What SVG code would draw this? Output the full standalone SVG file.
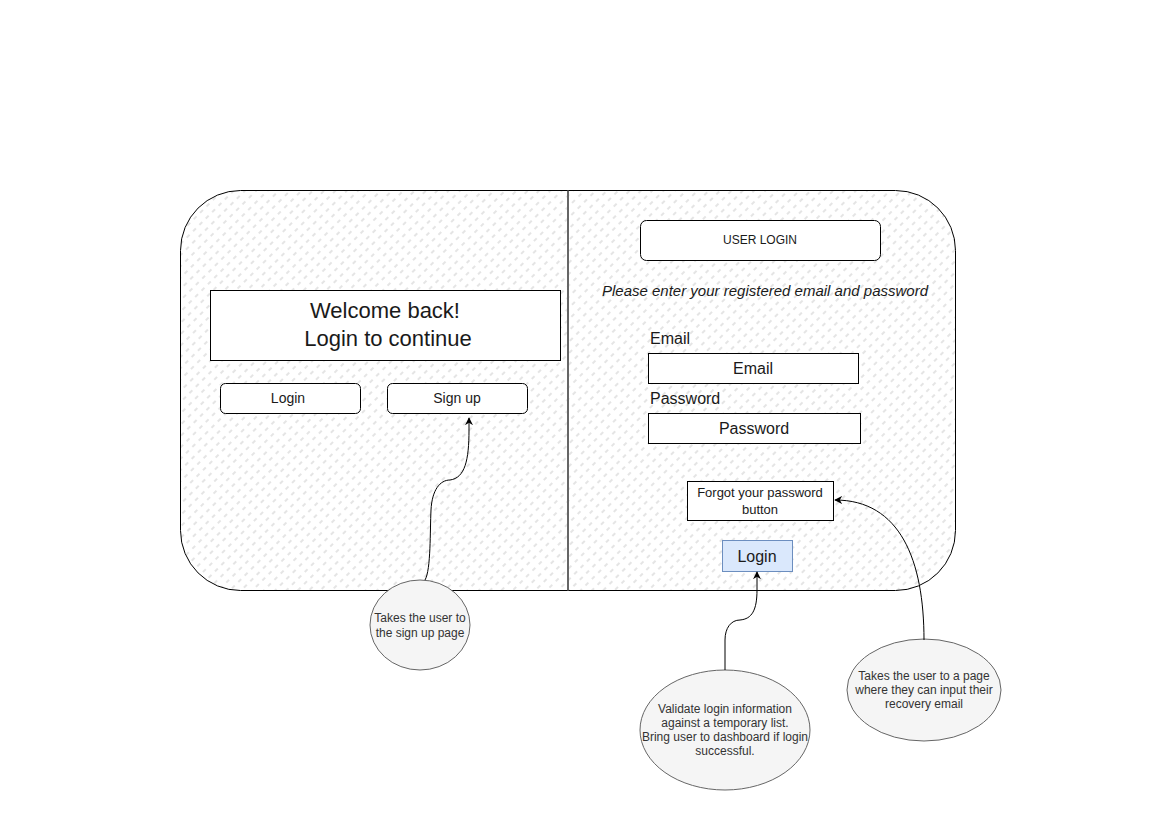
<svg xmlns="http://www.w3.org/2000/svg" width="1169" height="827" viewBox="0 0 1169 827">
<style>
.t{font-family:"Liberation Sans",Arial,sans-serif;fill:#1a1a1a;text-anchor:middle}
.box{fill:#fff;stroke:#000;stroke-width:1}
.ell{fill:#f5f5f5;stroke:#666;stroke-width:1}
.et{font-family:"Liberation Sans",Arial,sans-serif;fill:#333;font-size:12px;text-anchor:middle}
.edge{fill:none;stroke:#000;stroke-width:1}
</style>
<defs>
<pattern id="hatch" width="9" height="8" patternUnits="userSpaceOnUse" patternTransform="rotate(-45)">
<line x1="0" y1="4" x2="4" y2="4" stroke="#c4c4c4" stroke-width="0.9"/>
</pattern>
<marker id="arr" viewBox="0 0 10 10" refX="9" refY="5" markerWidth="8" markerHeight="8" orient="auto" markerUnits="userSpaceOnUse">
<path d="M0,0 L10,5 L0,10 L3,5 Z" fill="#000"/>
</marker>
</defs>
<rect width="1169" height="827" fill="#fff"/>
<g id="frame">
<rect x="180.5" y="190.5" width="775" height="400" rx="60" ry="60" fill="#fff" stroke="none"/>
<rect x="180.5" y="190.5" width="775" height="400" rx="60" ry="60" fill="url(#hatch)" stroke="#000"/>
<line x1="568" y1="190.5" x2="568" y2="590.5" stroke="#666" stroke-width="2"/>
</g>
<g id="welcome">
<rect class="box" x="210.5" y="290.5" width="350" height="70"/>
<text class="t" x="385" y="318" font-size="22">Welcome back!</text>
<text class="t" x="388" y="346" font-size="22">Login to continue</text>
</g>
<g id="btn-login-left">
<rect class="box" x="220.5" y="383.5" width="140" height="30" rx="5"/>
<text class="t" x="288" y="403" font-size="14">Login</text>
</g>
<g id="btn-signup">
<rect class="box" x="387.5" y="383.5" width="140" height="30" rx="5"/>
<text class="t" x="457" y="403" font-size="14">Sign up</text>
</g>
<g id="user-login">
<rect class="box" x="640.5" y="220.5" width="240" height="40" rx="6"/>
<text class="t" x="760" y="244" font-size="12">USER LOGIN</text>
</g>
<g id="instructions">
<text class="t" x="765" y="296" font-size="15" font-style="italic">Please enter your registered email and password</text>
</g>
<g id="email">
<text class="t" x="650" y="344" font-size="16" style="text-anchor:start">Email</text>
<rect class="box" x="648.5" y="353.5" width="210" height="30"/>
<text class="t" x="753" y="374" font-size="16">Email</text>
</g>
<g id="password">
<text class="t" x="650" y="404" font-size="16" style="text-anchor:start">Password</text>
<rect class="box" x="648.5" y="413.5" width="212" height="30"/>
<text class="t" x="754" y="434" font-size="16">Password</text>
</g>
<g id="forgot">
<rect class="box" x="687.5" y="481.5" width="146" height="39"/>
<text class="t" x="760" y="497" font-size="13">Forgot your password</text>
<text class="t" x="760" y="514" font-size="13">button</text>
</g>
<g id="btn-login">
<rect x="722.5" y="540.5" width="70" height="31" fill="#dae8fc" stroke="#6c8ebf"/>
<text class="t" x="757" y="562" font-size="16">Login</text>
</g>
<g id="note-signup">
<ellipse class="ell" cx="420" cy="625" rx="50" ry="45"/>
<text class="et" x="420" y="622">Takes the user to</text>
<text class="et" x="420" y="637">the sign up page</text>
</g>
<g id="note-login">
<ellipse class="ell" cx="725" cy="730" rx="85" ry="60"/>
<text class="et" x="725" y="713">Validate login information</text>
<text class="et" x="725" y="727">against a temporary list.</text>
<text class="et" x="725" y="741">Bring user to dashboard if login</text>
<text class="et" x="725" y="755">successful.</text>
</g>
<g id="note-forgot">
<ellipse class="ell" cx="924" cy="690" rx="77" ry="51"/>
<text class="et" x="924" y="680">Takes the user to a page</text>
<text class="et" x="924" y="694">where they can input their</text>
<text class="et" x="924" y="708">recovery email</text>
</g>
<g id="connectors">
<path class="edge" d="M425,580 C431,570 430,530 431,510 C432,490 440,480 450,480 C465,478 469,460 469,430 L469,418" marker-end="url(#arr)"/>
<path class="edge" d="M725,670 L725,640 C725,628 731,620 740,620 C752,619 757,610 757,590 L757,572" marker-end="url(#arr)"/>
<path class="edge" d="M924,640 C924,560 900,500 835,500" marker-end="url(#arr)"/>
</g>
</svg>
